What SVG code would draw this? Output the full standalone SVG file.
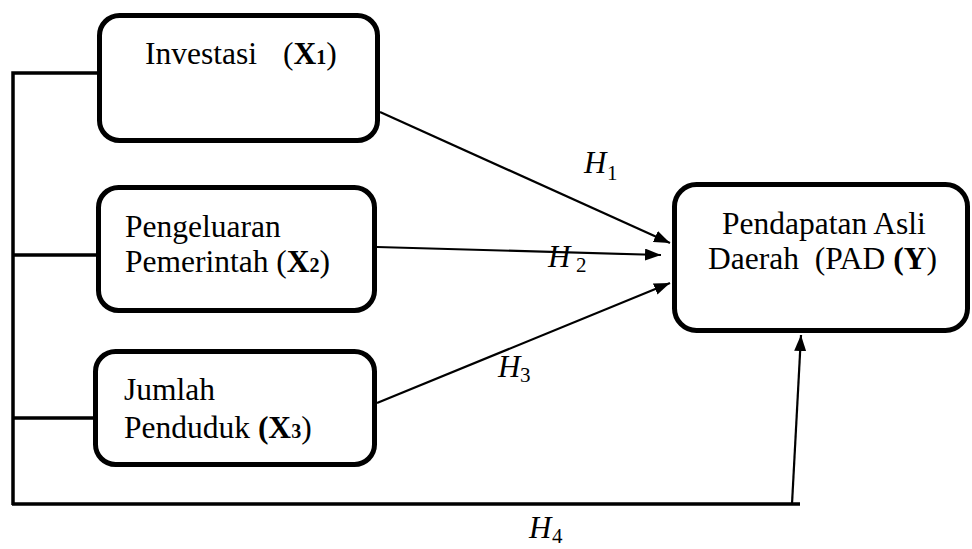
<svg xmlns="http://www.w3.org/2000/svg" width="972" height="549" viewBox="0 0 972 549">
<defs>
<style>
.box{fill:#fff;stroke:#000;stroke-width:5}
.t{font-family:"Liberation Serif","Times New Roman",serif;font-size:31.5px;fill:#000}
.b{font-weight:bold}
.sub{font-size:20px}
.h{font-family:"Liberation Serif","Times New Roman",serif;font-style:italic;font-size:31px;fill:#000}
.hs{font-family:"Liberation Serif","Times New Roman",serif;font-style:normal;font-size:21px}
.br{fill:none;stroke:#000;stroke-width:3.5}
.ar{fill:none;stroke:#000;stroke-width:2.2;marker-end:url(#ah)}
</style>
<marker id="ah" markerUnits="userSpaceOnUse" markerWidth="16" markerHeight="12" viewBox="0 0 16 12" refX="16" refY="6" orient="auto">
<path d="M0,0 L16,6 L0,12 Z" fill="#000"/>
</marker>
</defs>
<g id="connectors">
<path class="br" d="M13,505 V73 H104 M13,255 H104 M13,418 H104 M12,504 H800"/>
<line class="ar" x1="380" y1="112" x2="670" y2="243"/>
<line class="ar" x1="377" y1="247" x2="661" y2="255"/>
<line class="ar" x1="377" y1="403" x2="670" y2="283"/>
<line class="ar" x1="792" y1="504" x2="801" y2="335"/>
</g>
<g id="x1">
<rect class="box" x="99.5" y="15.5" width="278" height="125" rx="20"/>
<text class="t" x="145" y="64">Investasi <tspan x="283">(</tspan><tspan class="b">X</tspan><tspan class="b sub">1</tspan>)</text>
</g>
<g id="x2">
<rect class="box" x="98.5" y="187.5" width="276" height="123" rx="20"/>
<text class="t" x="125" y="237">Pengeluaran</text>
<text class="t" x="125" y="272">Pemerintah (<tspan class="b">X</tspan><tspan class="b sub">2</tspan>)</text>
</g>
<g id="x3">
<rect class="box" x="95.5" y="351.5" width="279" height="113" rx="20"/>
<text class="t" x="124" y="400">Jumlah</text>
<text class="t" x="124" y="438">Penduduk <tspan class="b">(X</tspan><tspan class="b sub">3</tspan>)</text>
</g>
<g id="y">
<rect class="box" x="674.5" y="184.5" width="293" height="146" rx="22"/>
<text class="t" x="722" y="234">Pendapatan Asli</text>
<text class="t" x="708" y="269" xml:space="preserve">Daerah  (PAD <tspan class="b">(Y</tspan>)</text>
</g>
<g id="labels">
<text class="h" x="584" y="173">H<tspan class="hs" x="607" y="180">1</tspan></text>
<text class="h" x="548" y="267">H<tspan class="hs" x="576" y="272">2</tspan></text>
<text class="h" x="498" y="377">H<tspan class="hs" x="520" y="382">3</tspan></text>
<text class="h" x="529" y="538">H<tspan class="hs" x="552" y="543">4</tspan></text>
</g>
</svg>
